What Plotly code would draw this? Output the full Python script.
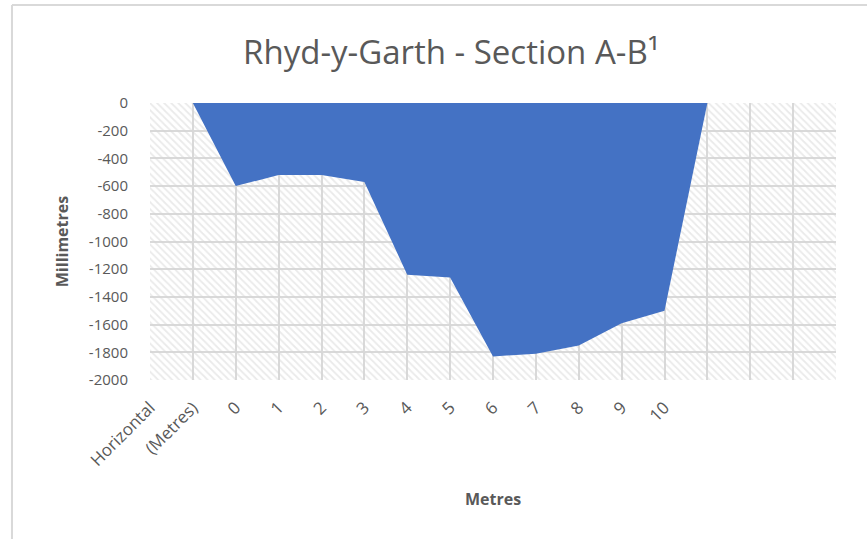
import plotly.graph_objects as go

# ---- data ----
# first category label "Horizontal (Metres)" is wrapped over two slots, as in the original
tick_labels = ["Horizontal", "(Metres)", "0", "1", "2", "3", "4", "5", "6", "7", "8", "9", "10"]
depths_mm = [0, -600, -520, -520, -570, -1240, -1260, -1830, -1810, -1750, -1590, -1500, 0]
y_tick_vals = [0, -200, -400, -600, -800, -1000, -1200, -1400, -1600, -1800, -2000]
y_tick_text = ["0", "-200", "-400", "-600", "-800", "-1000", "-1200", "-1400", "-1600", "-1800", "-2000"]
n_slots = 16
y_min, y_max = -2000, 0

x_pos = list(range(1, len(depths_mm) + 1))
tick_pos = list(range(0, len(tick_labels)))

FONT = "Open Sans"
GRAY = "#595959"
GRID = "#d9d9d9"

fig = go.Figure()

# hatched plot-area background
fig.add_trace(go.Scatter(
    x=[0, n_slots, n_slots, 0, 0],
    y=[y_max, y_max, y_min, y_min, y_max],
    mode="none", fill="toself",
    fillcolor="rgba(255,255,255,0)",
    fillpattern=dict(shape="\\", fgcolor="#d6d6d6", bgcolor="rgba(255,255,255,0)",
                     size=5, solidity=0.35),
    hoverinfo="skip", showlegend=False,
))

# section area
fig.add_trace(go.Scatter(
    x=x_pos, y=depths_mm, mode="lines", fill="tozeroy",
    line=dict(width=0, color="#4472C4"), fillcolor="#4472C4",
    showlegend=False,
))

fig.update_layout(
    width=867, height=539,
    margin=dict(l=150, r=31, t=103, b=159),
    paper_bgcolor="white", plot_bgcolor="white",
    font=dict(family=FONT, color=GRAY, size=15),
    title=dict(text="Rhyd-y-Garth - Section A-B¹", x=0.439, xanchor="center",
               xref="paper", y=0.903, yanchor="middle", yref="container",
               font=dict(family=FONT, size=33, color=GRAY)),
    xaxis=dict(range=[0, n_slots], tickmode="array", tickvals=tick_pos, ticktext=tick_labels,
               tickangle=-45, showgrid=True, gridcolor=GRID, gridwidth=2,
               zeroline=False, showline=False, ticks="outside", ticklen=10, tickcolor="white",
               tickfont=dict(family=FONT, size=17, color=GRAY),
               title=dict(text="<b>Metres</b>", standoff=24,
                          font=dict(family=FONT, size=16, color=GRAY)),
               minor=dict(dtick=1, tick0=0, showgrid=True, gridcolor=GRID, gridwidth=2)),
    yaxis=dict(range=[y_min, y_max], tickmode="array", tickvals=y_tick_vals, ticktext=y_tick_text,
               showgrid=True, gridcolor=GRID, gridwidth=2,
               zeroline=False, showline=False, ticks="outside", ticklen=18, tickcolor="white",
               tickfont=dict(family=FONT, size=15, color=GRAY),
               title=dict(text="<b>Millimetres</b>", standoff=16,
                          font=dict(family=FONT, size=16, color=GRAY))),
    shapes=[
        dict(type="line", xref="paper", yref="paper", x0=-0.2012, x1=1.2, y0=1.3538, y1=1.3538,
             line=dict(color=GRID, width=2)),
        dict(type="line", xref="paper", yref="paper", x0=-0.2012, x1=-0.2012, y0=1.3538, y1=-0.7,
             line=dict(color=GRID, width=2)),
    ],
)

fig.write_html("out.html", config={"displayModeBar": False},
               post_script="document.body.style.margin='0';")
